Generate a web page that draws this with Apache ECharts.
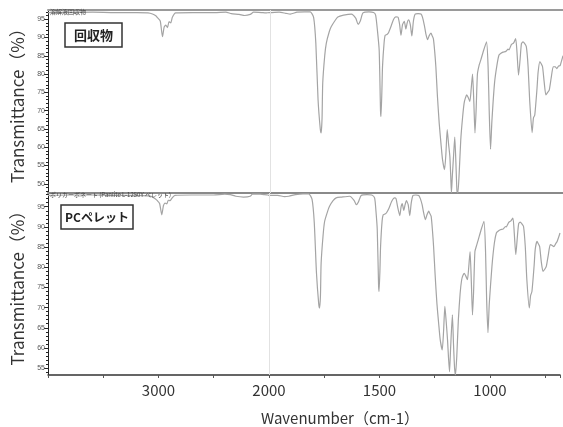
<!DOCTYPE html>
<html>
<head>
<meta charset="utf-8">
<script src="https://cdn.jsdelivr.net/npm/echarts@6/dist/echarts.min.js"></script>
<style>
  html, body { margin: 0; padding: 0; background: #fff; }
  #chart { width: 563px; height: 427px; }
</style>
</head>
<body>
<div id="chart"></div>
<script>
// [wavenumber cm-1, transmittance %]
var recoveredSpectrum = [
  [4000, 96.8], [3800, 96.8], [3600, 96.9], [3400, 96.8], [3200, 96.8], [3100, 96.7],
  [3060, 96.4], [3030, 95.9], [3015, 95.4], [2990, 94.5], [2970, 90.2], [2955, 92.8],
  [2940, 93.4], [2925, 92.7], [2911, 94.3], [2895, 94.0], [2881, 95.5], [2851, 96.7],
  [2700, 96.8], [2500, 96.8], [2400, 96.9], [2350, 96.5], [2280, 96.3], [2230, 96.0],
  [2180, 96.3], [2150, 96.9], [2080, 96.8], [2040, 96.7], [2010, 96.8], [2000, 96.8],
  [1960, 96.9], [1930, 96.6], [1910, 96.4], [1880, 96.9], [1846, 97.0], [1820, 97.0],
  [1805, 95.5], [1795, 88.4], [1785, 73], [1775, 65], [1771, 63.9], [1767, 68],
  [1764, 77.5], [1755, 85], [1748, 88.4], [1735, 91.5], [1726, 92.9], [1710, 94.5],
  [1696, 95.6], [1670, 96.1], [1635, 96.4], [1615, 95.2], [1605, 93.6], [1595, 94.5],
  [1583, 96.7], [1556, 97.0], [1535, 96.8], [1526, 96.1], [1518, 92], [1510, 86.5],
  [1504, 70], [1502, 68.4], [1498, 75], [1495, 82], [1488, 88.5], [1483, 90.6],
  [1475, 90.8], [1468, 91.3], [1457, 93], [1445, 95], [1435, 95.6], [1425, 95.5],
  [1418, 93.5], [1412, 90.6], [1405, 93.5], [1397, 94.4], [1390, 92.3], [1384, 94],
  [1378, 94.8], [1370, 93.5], [1363, 90.4], [1356, 94.5], [1348, 96.4], [1335, 96.5],
  [1322, 96.4], [1315, 95.5], [1307, 93.4], [1300, 91], [1292, 89.4], [1285, 90.5],
  [1277, 91.2], [1272, 90.5], [1266, 89.6], [1260, 86], [1255, 82], [1248, 74],
  [1240, 66.6], [1232, 61], [1225, 56.6], [1216, 53.9], [1210, 58], [1204, 64.8],
  [1198, 61], [1192, 57.5], [1188, 52], [1185, 47.5], [1181, 52], [1175, 58],
  [1170, 62.8], [1165, 56], [1160, 48], [1156, 47.5], [1150, 53], [1143, 62],
  [1135, 68], [1128, 72], [1122, 73.5], [1116, 74.3], [1109, 73.5], [1102, 72.5],
  [1096, 76], [1090, 80], [1084, 72], [1079, 63.9], [1074, 70], [1068, 80],
  [1060, 82.5], [1053, 83.8], [1040, 86.5], [1027, 88.8], [1020, 82], [1015, 70],
  [1009, 59.5], [1003, 67], [991, 77.6], [980, 82.5], [971, 85.2], [962, 85.7],
  [953, 86], [940, 86.2], [930, 86.8], [926, 86.6], [915, 88.1], [905, 88.5],
  [896, 89.7], [890, 86], [883, 79.7], [876, 84], [870, 88.3], [863, 88.8],
  [856, 88.4], [848, 87.5], [840, 82], [833, 72.9], [822, 64], [816, 68],
  [810, 68.8], [800, 76], [795, 80.5], [787, 83.4], [781, 82.8], [775, 82],
  [768, 78], [760, 74.3], [752, 75.0], [745, 75.6], [736, 79], [727, 82],
  [718, 82], [711, 81.5], [703, 82.2], [696, 82.3], [690, 83.5], [683, 85]
];

var pelletSpectrum = [
  [4000, 97.8], [3800, 97.9], [3600, 97.9], [3400, 97.8], [3200, 97.8], [3100, 97.7],
  [3060, 97.5], [3030, 97.0], [3010, 96.5], [2990, 95.8], [2970, 93.0], [2955, 95.3],
  [2940, 95.9], [2925, 95.7], [2911, 96.6], [2895, 96.5], [2881, 97.0], [2851, 97.8],
  [2700, 97.9], [2500, 97.9], [2400, 98.1], [2350, 98.0], [2300, 97.6], [2230, 97.4],
  [2170, 97.6], [2150, 98.1], [2080, 98.1], [2040, 98.0], [2010, 97.9], [2000, 97.8],
  [1960, 97.8], [1930, 97.5], [1910, 97.6], [1880, 98.0], [1846, 98.2], [1820, 98.2],
  [1805, 96.8], [1795, 91], [1785, 78.5], [1775, 71], [1771, 69.9], [1767, 73],
  [1764, 81], [1755, 88], [1748, 91.4], [1735, 93.8], [1726, 95.1], [1710, 96.5],
  [1696, 97.2], [1670, 97.4], [1635, 97.6], [1615, 96.6], [1605, 95.5], [1595, 96.2],
  [1583, 97.8], [1556, 98.0], [1535, 97.9], [1522, 97.2], [1516, 94], [1510, 89.3],
  [1504, 75.5], [1502, 74], [1498, 79], [1495, 85.1], [1488, 91.5], [1483, 93],
  [1475, 93.2], [1468, 93.5], [1457, 94.6], [1445, 96.3], [1432, 97.2], [1425, 97],
  [1418, 95], [1408, 92.8], [1402, 95], [1397, 95.8], [1390, 94.1], [1384, 95.5],
  [1378, 96.5], [1370, 95.5], [1363, 92.8], [1356, 96], [1348, 97.8], [1335, 97.9],
  [1322, 97.8], [1315, 97], [1307, 95.5], [1300, 93.5], [1292, 91.8], [1285, 93],
  [1277, 93.9], [1272, 93.3], [1266, 92.6], [1260, 89], [1255, 85.1], [1248, 78],
  [1240, 71], [1232, 66], [1225, 62], [1216, 59.5], [1210, 64], [1204, 70.3],
  [1198, 66.5], [1192, 62], [1188, 58], [1183, 54.1], [1178, 60], [1170, 68.2],
  [1165, 61], [1160, 55], [1156, 53.3], [1150, 58], [1143, 67], [1135, 73.5],
  [1128, 76.9], [1122, 78], [1116, 78.5], [1109, 77.8], [1102, 76.9], [1096, 80],
  [1090, 83.9], [1084, 76], [1079, 68.2], [1074, 74], [1068, 83.9], [1060, 85.5],
  [1053, 86.8], [1040, 89.3], [1027, 91.4], [1020, 84], [1015, 72], [1009, 63.8],
  [1003, 71], [991, 80.2], [980, 86], [971, 88.5], [962, 89], [953, 89.3],
  [940, 89.5], [930, 90.1], [926, 90], [915, 91.1], [905, 91.5], [896, 92.2],
  [890, 88.5], [883, 83.1], [876, 87.5], [870, 90.8], [863, 91.2], [856, 90.8],
  [848, 90.1], [840, 85], [833, 76.9], [822, 69.9], [816, 73], [810, 74],
  [800, 80.5], [795, 84.5], [787, 86.4], [781, 85.8], [775, 85.1], [768, 81.5],
  [760, 79], [752, 79.5], [745, 80.2], [736, 83], [727, 85.6], [718, 85.4],
  [711, 85.1], [703, 85.8], [696, 86.4], [690, 87.3], [683, 88.5]
];

var xLabels = [3000, 2000, 1500, 1000];
var topYLabels = [50, 55, 60, 65, 70, 75, 80, 85, 90, 95];
var bottomYLabels = [55, 60, 65, 70, 75, 80, 85, 90, 95];

// instrument axis: 4000-2000 drawn at half scale, 2000-683 at full scale
var WN_MAX = 4000, WN_BREAK = 2000, WN_MIN = 683;
function toPos(w) {
  return w >= WN_BREAK ? (WN_MAX - w) / 2 : (WN_MAX - WN_BREAK) / 2 + (WN_BREAK - w);
}
function toWn(p) {
  var b = (WN_MAX - WN_BREAK) / 2;
  return p <= b ? WN_MAX - p * 2 : WN_BREAK - (p - b);
}
var posMax = toPos(WN_MIN);

function range(a, b) {
  var r = [];
  for (var i = a; i <= b; i++) r.push(i);
  return r;
}

var font = 'Noto Sans CJK JP';
var lineColor = '#a4a4a4';

var myChart = echarts.init(document.getElementById('chart'));

function minorY(grid, min, max) {
  return {
    type: 'value', gridIndex: grid, position: 'left', min: min, max: max,
    splitLine: { show: false },
    axisLine: { show: true, lineStyle: { color: '#222', width: 1 } },
    axisTick: { show: true, length: 2, customValues: range(Math.ceil(min), Math.floor(max)), lineStyle: { color: '#222' } },
    axisLabel: { show: false }
  };
}
function majorY(grid, min, max, labels) {
  return {
    type: 'value', gridIndex: grid, position: 'left', min: min, max: max,
    name: 'Transmittance（%）', nameLocation: 'middle', nameGap: 22,
    nameTextStyle: { fontFamily: font, fontSize: 17, color: '#333' },
    splitLine: { show: false },
    axisLine: { show: false },
    axisTick: { show: true, length: 4, customValues: labels, lineStyle: { color: '#222' } },
    axisLabel: { customValues: labels, fontSize: 7, color: '#555', margin: 3, fontFamily: 'Liberation Sans' }
  };
}

var markLine2000 = {
  silent: true, symbol: 'none', label: { show: false },
  lineStyle: { color: '#e2e2e2', width: 1, type: 'solid' },
  data: [{ xAxis: toPos(2000) }]
};

var option = {
  animation: false,
  backgroundColor: '#fff',
  grid: [
    { left: 48, top: 10, width: 515, height: 183 },
    { left: 48, top: 193, width: 515, height: 182 }
  ],
  title: [
    { text: '溶解液回収物', left: 50, top: 9, padding: 0,
      textStyle: { fontFamily: font, fontSize: 6, fontWeight: 'normal', color: '#444' } },
    { text: 'ポリカーボネート (Panlite L-1250Y ペレット)', left: 50, top: 192, padding: 0,
      textStyle: { fontFamily: font, fontSize: 6, fontWeight: 'normal', color: '#444' } },
    { text: '回収物', left: 65, top: 23, padding: [5, 9, 5, 9],
      borderColor: '#333', borderWidth: 1.5,
      textStyle: { fontFamily: font, fontSize: 13, lineHeight: 14, fontWeight: 'bold', color: '#222' } },
    { text: 'PCペレット', left: 61, top: 205, padding: [5, 4, 5, 4],
      borderColor: '#333', borderWidth: 1.5,
      textStyle: { fontFamily: font, fontSize: 12, lineHeight: 14, fontWeight: 'bold', color: '#222' } }
  ],
  xAxis: [
    { type: 'value', gridIndex: 0, position: 'bottom', min: 0, max: posMax,
      splitLine: { show: false }, axisTick: { show: false }, axisLabel: { show: false },
      axisLine: { show: true, lineStyle: { color: '#8a8a8a', width: 2 } } },
    { type: 'value', gridIndex: 0, position: 'top', min: 0, max: posMax,
      splitLine: { show: false }, axisTick: { show: false }, axisLabel: { show: false },
      axisLine: { show: true, lineStyle: { color: '#9a9a9a', width: 2 } } },
    { type: 'value', gridIndex: 1, position: 'bottom', min: 0, max: posMax, interval: 250,
      name: 'Wavenumber（cm-1）', nameLocation: 'middle', nameGap: 36,
      nameTextStyle: { fontFamily: font, fontSize: 15, color: '#333', padding: [0, 0, 0, 72] },
      splitLine: { show: false },
      axisLine: { show: true, lineStyle: { color: '#333', width: 1.5 } },
      axisTick: { show: true, length: 3, lineStyle: { color: '#555' } },
      axisLabel: {
        fontFamily: font, fontSize: 15, color: '#333', margin: 8,
        formatter: function (v) {
          var w = Math.round(toWn(v));
          return xLabels.indexOf(w) >= 0 ? String(w) : '';
        }
      }
    }
  ],
  yAxis: [
    minorY(0, 47.5, 97.5),
    majorY(0, 47.5, 97.5, topYLabels),
    minorY(1, 53.3, 98.4),
    majorY(1, 53.3, 98.4, bottomYLabels)
  ],
  series: [
    {
      type: 'line', xAxisIndex: 0, yAxisIndex: 0, showSymbol: false, smooth: 0.2,
      clip: true,
      lineStyle: { color: lineColor, width: 1.2 },
      data: recoveredSpectrum.map(function (d) { return [toPos(d[0]), d[1]]; }),
      markLine: markLine2000
    },
    {
      type: 'line', xAxisIndex: 2, yAxisIndex: 2, showSymbol: false, smooth: 0.2,
      clip: true,
      lineStyle: { color: lineColor, width: 1.2 },
      data: pelletSpectrum.map(function (d) { return [toPos(d[0]), d[1]]; }),
      markLine: markLine2000
    }
  ]
};

option && myChart.setOption(option);
</script>
</body>
</html>
